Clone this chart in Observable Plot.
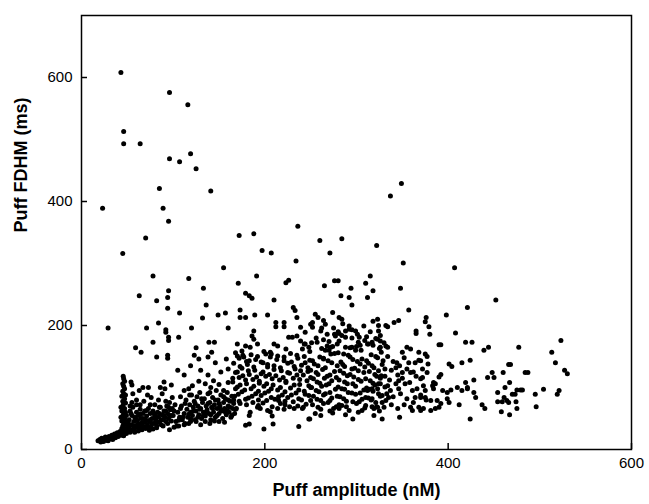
<!DOCTYPE html>
<html><head><meta charset="utf-8">
<script src="https://cdn.jsdelivr.net/npm/d3@7"></script>
<script src="https://cdn.jsdelivr.net/npm/@observablehq/plot@0.6"></script>
<style>
body{margin:0;background:#fff;}
svg{font-family:"Liberation Sans",Arial,Helvetica,sans-serif;}
</style></head><body>
<div id="chart"></div>
<script>
// [amplitude nM, FDHM ms]
const sparseTop = [[43,608],[96,576],[116,556],[46,513],[46,493],[64,493],[119,477],[96,469],[107,464],[125,453],[85,421],[141,417],[23,389],[89,389],[95,368],[70,341],[45,316],
[349,429],[337,409],[236,360],[172,345],[188,348],[260,337],[284,340],[197,321],[207,317],[271,317],[322,329],[234,304],[351,301],[407,293]];
const sparseMid = [[191,280],[171,268],[223,269],[226,273],[265,264],[276,272],[280,272],[315,280],[310,268],[294,260],[318,256],[348,260],[179,252],[183,248],[186,244],[210,241],[283,248],[292,245],[312,245],[452,241],
[155,293],[78,280],[117,276],[133,260],[63,248],[95,256],[94,245],[82,240],[94,228],[136,233],[107,220],[157,220],[149,217],[132,212],[84,204],[29,196],[71,196],[92,193],[92,189],[120,196],[160,196],[95,181],[95,176],[106,181],[78,173],[139,173],[145,173],[59,164],[65,157],[125,164],[142,157],[82,149],[94,152],[94,147],[123,152],[128,146],[138,149],[158,146],[119,135],[146,140]];
const leftCluster = [[45.5,118],[54,109],[55,104],[67,100],[73,100],[56,90],[76,84],[64,72],[55,76],[90,109],[91,98],[98,104],[117,98],[121,103],[135,106],[141,100],[144,111],[96,32],[101,36],[106,38],[112,40],[117,42],[119,49],[156,44],[159,63],
[18,14],[20,16],[21,12],[22,18],[23,15],[24,13],[25,17],[26,20],[27,15],[28,18],[29,14],[30,21],[31,17],[32,19],[33,23],[34,16],[35,21],[36,25],[37,19],[38,23],[39,27],[40,21],[41,25],[42,29],[43,23],[44,27],[45,31],[46,22],[47,28],[48,33],[49,26],[50,30],[52,35],[53,28],[55,32],[57,38],[58,30],[60,36],[62,42],[63,33],[65,40],
[44,34],[45,38],[46,42],[44,46],[47,50],[45,54],[46,58],[44,62],[47,66],[45,70],[46,74],[45,78],[47,82],[44,86],[46,90],[45,94],[47,98],[46,102],[45,106],[47,110],[46,114],[48,45],[48,60],[48,75],[48,88],[43,52],[43,68],[49,40],[49,55]];
const midCluster = [[52,48],[53,62],[54,40],[55,55],[56,68],[57,45],[58,52],[59,38],[60,60],[61,47],[62,55],[63,35],[64,65],[65,50],[66,43],[67,58],[68,37],[69,62],[70,48],[71,54],[72,40],[73,66],[74,45],[75,58],[76,36],[77,50],[78,62],[79,42],[80,55],[81,47],[82,38],[83,60],[84,52],[85,44],[86,68],[87,40],[88,56],[89,48],[90,62],[91,52],[92,45],[93,70],[94,58],[95,50],[96,76],[97,64],[98,55],[99,84],[58,28],[62,30],[66,32],[70,34],[74,31],[78,33],[82,35],[60,80],[68,78],[72,88],[80,72],[84,80],[88,90],[92,78],[63,95],[86,100],
[51,42],[54,58],[57,33],[59,50],[61,40],[64,57],[66,38],[67,50],[69,44],[71,63],[73,36],[75,48],[77,42],[79,58],[81,52],[83,44],[85,58],[87,48],[89,38],[90,55],[92,62],[94,42],[96,55],[98,46],[99,66],[53,70],[60,72],[75,72],[85,68],[95,68]];
const lowerArc = [[103,45],[105,60],[107,52],[109,70],[110,48],[112,58],[114,80],[115,65],[116,52],[118,72],[119,60],[120,88],[121,55],[122,68],[123,78],[124,48],[125,62],[126,85],[127,70],[128,56],[129,92],[130,66],[131,50],[132,76],[133,60],[134,82],[135,54],[136,70],[137,64],[138,90],[139,58],[140,76],[141,48],[142,68],[143,84],[144,60],[145,72],[146,52],[147,95],[148,66],[149,80],[150,58],[151,70],[152,88],[153,62],[154,50],[155,76],[156,66],[157,82],[158,56],[159,92],[160,70],[161,60],[162,78],[163,52],[164,86],[165,66],[166,74],[167,58],[168,98],[102,72],[108,85],[112,95],[100,55],[104,38],[113,42],[125,45],[130,40],[135,45],[140,42],[145,46],[150,45],[128,110],[150,105],[160,108],[165,115],[138,120],[152,125],[112,120],[105,128],[160,130],[170,125],[130,128],
[101,62],[106,47],[108,66],[111,53],[113,74],[117,57],[119,45],[122,62],[124,74],[127,52],[129,65],[131,82],[133,55],[136,60],[138,74],[141,56],[143,66],[146,80],[148,55],[150,74],[152,64],[155,85],[157,60],[160,80],[162,68],[164,55],[166,80],[168,65],[118,88],[140,92],[155,95]];
const centerUpper = [[173,225],[179,213],[189,217],[173,213],[203,217],[231,229],[233,224],[235,213],[212,205],[221,205],[212,198],[221,198],[188,191],[186,183],[188,178],[239,197],[244,189],[230,181],[235,183],[170,170],[179,167],[184,165],[192,170],[210,170],[214,167],[206,157],[201,154],[223,162],[226,181],[239,175],[243,170],[241,162],[175,159],[177,149],[170,151],[183,143],
[295,233],[255,218],[258,213],[274,221],[281,213],[284,210],[264,208],[266,202],[261,191],[250,202],[252,197],[323,210],[324,200],[288,191],[292,194],[299,191],[301,186],[303,181],[276,186],[280,190],[284,184],[257,173],[248,165],[244,170],[268,167],[272,165],[288,165],[295,165],[313,170],[317,173],[323,178],[324,191],[326,165],
[262,196],[292,199],[281,187],[295,180],[311,182],[264,177],[279,170],[300,166],[318,168],[270,160],[286,154],[305,160]];
const centerLower = [[179,39],[183,41],[199,33],[209,41],[208,54],[237,37],[248,49],[183,55],[184,60],[169,66],[173,74],[192,68],[195,66],[203,63],[206,61],[214,66],[221,65],[232,66],[241,66],
[249,49],[261,55],[274,59],[281,66],[296,49],[319,66],[323,68],[328,49],[312,95],[317,98],[323,98],[317,82]];
const denseLeft = [[168,156],[185,153],[199,158],[214,151],[228,155],[243,150],[172,147],[190,145],[206,149],[221,143],[236,147],[249,144],[166,139],[181,137],[196,141],[210,135],[225,139],[240,136],[175,131],[189,128],[203,133],[218,127],[233,130],[247,126],[168,124],[183,121],[198,125],[212,119],[227,123],[242,120],[172,116],[187,113],[201,118],[216,112],[231,115],[246,111],[165,109],[180,106],[194,110],[209,104],[223,108],[238,105],[250,100],[170,101],[185,98],[199,102],[214,96],[228,99],[243,94],[175,93],[190,90],[204,94],[219,88],[234,91],[248,87],[167,86],[182,83],[196,87],[211,81],[225,84],[240,80],[172,78],[187,76],[202,79],[217,74],[231,77],[245,73],[193,71],[208,69],[222,72],[236,70],
[176,152],[192,150],[207,154],[221,149],[235,152],[180,142],[198,140],[213,145],[229,141],[244,140],[173,134],[188,133],[203,137],[217,132],[232,134],[247,132],[182,127],[196,122],[210,129],[225,124],[239,127],[176,119],[191,117],[205,121],[220,116],[235,120],[250,116],[179,112],[194,107],[208,114],[223,110],[238,113],[173,104],[188,102],[202,106],[217,100],[232,104],[248,103],[178,96],[193,94],[207,98],[222,93],[237,96],[171,89],[186,86],[200,91],[215,85],[229,88],[244,89],[179,81],[193,80],[207,84],[222,78],[237,82],[250,79],[180,72],[198,75],[215,79],[227,69],[242,68]];
const denseRight = [[252,205],[285,203],[318,207],[275,196],[308,199],[268,186],[295,193],[315,190],[326,184],[256,180],[277,183],[288,181],[309,176],[321,179],[251,172],[270,174],[281,175],[302,173],[312,170],[330,172],[262,163],[274,166],[293,164],[304,168],[325,163],[249,158],[266,160],[280,156],[299,160],[316,153],[327,157],[260,149],[272,154],[291,152],[306,146],[321,150],[252,143],[264,146],[283,141],[296,145],[313,139],[329,143],[258,135],[273,140],[287,134],[304,138],[319,132],[250,128],[266,132],[282,127],[298,131],[314,126],[331,130],[258,121],[276,126],[290,119],[308,124],[322,118],[253,114],[268,118],[281,112],[297,117],[315,111],[326,115],[260,107],[273,111],[290,106],[305,110],[320,104],[251,100],[267,104],[284,98],[299,102],[314,97],[331,101],[259,93],[277,97],[291,92],[308,96],[324,90],[253,86],[266,90],[282,85],[299,89],[313,83],[328,87],[261,79],[273,83],[289,78],[306,81],[321,76],[252,72],[269,76],[284,71],[300,74],[317,69],[261,65],[278,69],[292,63],[309,67],[325,62],[255,58],[271,62],[288,56],[302,60],[319,55],
[264,147],[276,155],[293,149],[311,143],[323,148],[254,138],[269,143],[285,137],[301,142],[317,135],[328,137],[263,129],[279,135],[295,130],[309,133],[324,127],[256,124],[271,120],[286,123],[302,127],[320,121],[331,118],[265,115],[278,116],[293,121],[310,114],[327,119],[257,109],[270,106],[287,109],[302,113],[318,107],[262,102],[280,101],[296,106],[311,99],[324,106],[256,95],[271,92],[287,97],[304,91],[318,94],[264,88],[279,86],[295,91],[310,84],[326,86],[257,81],[271,79],[286,82],[303,77],[316,80],[264,74],[281,72],[296,77],[310,71],[328,76],[258,68],[275,66],[289,69],[306,63],[322,69]];
const rightCluster = [[357,225],[376,213],[375,206],[398,217],[332,200],[334,198],[341,205],[346,208],[379,198],[380,186],[365,191],[365,187],[408,188],[390,169],[392,169],[326,175],[332,167],[334,165],[355,165],[359,162],[350,157],[368,157],[375,154],[377,150],[364,140],[357,140],[368,144],[370,143],[401,138],[404,134],[415,140],[344,140],[343,132],[350,124],[359,124],[377,124],[392,121],[390,117],[370,114],[372,116],[384,108],[386,106],[383,103],[384,98],[394,95],[403,96],[399,92],[410,100],[415,95],[326,106],[334,103],[337,95],[346,111],[346,98],[353,106],[361,95],[366,98],[373,103],[375,95],[364,84],[370,84],[375,84],[381,79],[388,79],[392,74],[399,82],[401,76],[412,72],[332,79],[330,68],[335,84],[359,68],[361,63],[368,68],[370,63],[373,66],[381,63],[386,66],[390,68],[347,52],
[334,150],[340,142],[347,135],[352,148],[338,128],[345,120],[355,130],[362,125],[336,112],[343,106],[350,115],[358,108],[365,118],[372,130],[378,138],[333,90],[340,85],[348,90],[355,82],[362,76],[370,88],[376,80],[338,72],[345,66],[352,72]];
const farRight = [[421,229],[419,173],[426,173],[439,160],[444,165],[477,165],[513,157],[517,140],[424,144],[466,137],[468,137],[484,124],[487,124],[448,124],[450,116],[443,116],[460,124],[428,112],[419,108],[421,100],[421,98],[467,108],[462,100],[475,96],[479,96],[481,96],[454,92],[470,89],[473,89],[461,84],[464,79],[504,97],[495,89],[519,89],[521,95],[428,92],[430,84],[454,77],[459,77],[466,76],[474,77],[437,72],[440,66],[458,61],[467,56],[475,66],[496,69],[424,49],[530,122],[527,128],[523,176]];

const xTicks = [0, 200, 400, 600];
const yTicks = [0, 200, 400, 600];
const xLabel = "Puff amplitude (nM)";
const yLabel = "Puff FDHM (ms)";

const puffs = [...sparseTop, ...sparseMid, ...leftCluster, ...midCluster, ...lowerArc, ...centerUpper, ...centerLower, ...denseLeft, ...denseRight, ...rightCluster, ...farRight]
  .map(([amp, fdhm]) => ({amp, fdhm}));

const chart = Plot.plot({
  width: 649, height: 504,
  marginLeft: 81, marginRight: 18, marginTop: 15, marginBottom: 55,
  style: {fontFamily: '"Liberation Sans", Arial, Helvetica, sans-serif', background: "#fff"},
  x: {domain: [0, 600]},
  y: {domain: [0, 700]},
  marks: [
    Plot.dot(puffs, {x: "amp", y: "fdhm", r: 2.5, fill: "black", stroke: "none"}),
    Plot.axisX({ticks: xTicks, tickSize: -6, tickPadding: 14, fontSize: 15, label: null, stroke: "black", strokeWidth: 1.5, color: "black"}),
    Plot.axisY({ticks: yTicks, tickSize: -6, tickPadding: 15, fontSize: 15, label: null, stroke: "black", strokeWidth: 1.5, color: "black"}),
    Plot.frame({stroke: "black", strokeWidth: 1.5}),
    Plot.text([xLabel], {frameAnchor: "bottom", dy: 46, text: d => d, fontSize: 18, fontWeight: "bold", fill: "black"}),
    Plot.text([yLabel], {frameAnchor: "left", dx: -60, rotate: -90, text: d => d, fontSize: 18, fontWeight: "bold", fill: "black"})
  ]
});
document.getElementById("chart").append(chart);
</script>
</body></html>
